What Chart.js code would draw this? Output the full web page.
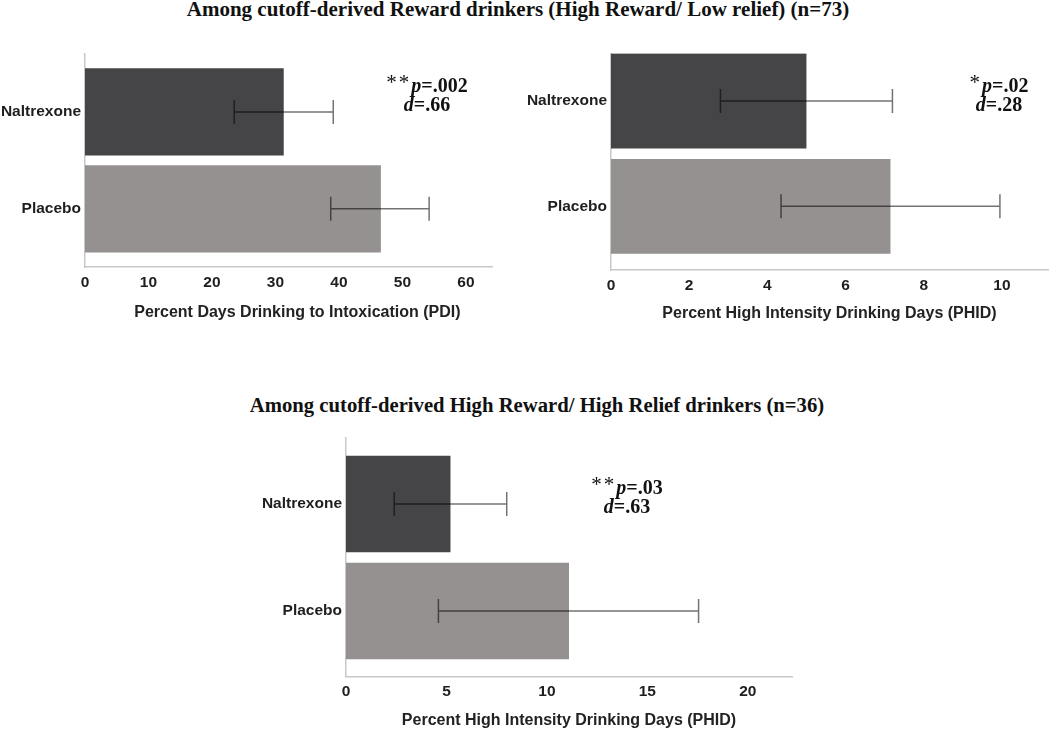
<!DOCTYPE html>
<html>
<head>
<meta charset="utf-8">
<script src="https://cdn.jsdelivr.net/npm/chart.js@4.4.0/dist/chart.umd.min.js"></script>
<style>
  body { margin: 0; background: #fff; width: 1050px; height: 730px; position: relative; overflow: hidden; }
  canvas { position: absolute; }
  .title { position: absolute; font-family: "Liberation Serif", "Times New Roman", serif; font-weight: bold; font-size: 21px; line-height: 20px; color: #111; text-align: center; white-space: nowrap; width: 800px; }
  .stat { position: absolute; font-family: "Liberation Serif", "Times New Roman", serif; font-weight: bold; font-size: 20px; line-height: 19px; color: #111; text-align: center; width: 140px; white-space: nowrap; }
  .stat .ast { font-weight: normal; font-size: 21px; letter-spacing: 2px; position: relative; top: -3px; }
</style>
</head>
<body>

<div class="title" style="left:118px; top:-1px;">Among cutoff-derived Reward drinkers (High Reward/ Low relief) (n=73)</div>
<div class="title" style="left:137px; top:395px; font-size:20.7px;">Among cutoff-derived High Reward/ High Relief drinkers (n=36)</div>

<canvas id="pdiChart" width="500" height="282" style="left:0px; top:40px;"></canvas>
<canvas id="phidRewardChart" width="525" height="283" style="left:525px; top:40px;"></canvas>
<canvas id="phidReliefChart" width="550" height="310" style="left:250px; top:420px;"></canvas>

<div class="stat" style="left:357px; top:76px;"><span class="ast">**</span><i>p</i>=.002<br><i>d</i>=.66</div>
<div class="stat" style="left:929px; top:76px;"><span class="ast">*</span><i>p</i>=.02<br><i>d</i>=.28</div>
<div class="stat" style="left:557px; top:478px;"><span class="ast">**</span><i>p</i>=.03<br><i>d</i>=.63</div>

<script>
// groups shown on every chart
const groups = ['Naltrexone', 'Placebo'];
const barColors = ['#454547', '#959190'];

// Reward drinkers - PDI
const pdiMeans = [31.3, 46.6];
const pdiLow = [23.5, 38.7];
const pdiHigh = [39.1, 54.2];

// Reward drinkers - PHID
const phidRewardMeans = [5.0, 7.15];
const phidRewardLow = [2.8, 4.35];
const phidRewardHigh = [7.2, 9.95];

// High reward / high relief drinkers - PHID
const phidReliefMeans = [5.2, 11.1];
const phidReliefLow = [2.4, 4.6];
const phidReliefHigh = [8.0, 17.55];

const tickFont = { family: '"Liberation Sans", Arial, sans-serif', size: 15.5, weight: 'bold' };
const axisFont = { family: '"Liberation Sans", Arial, sans-serif', size: 16, weight: 'bold' };

// draws the error bar for each group from the low/high arrays
const errorBars = {
  id: 'errorBars',
  afterDatasetsDraw(chart, args, opts) {
    const xs = chart.scales.x, ys = chart.scales.y;
    const ctx = chart.ctx;
    ctx.save();
    ctx.strokeStyle = 'rgba(0,0,0,0.55)';
    ctx.lineWidth = 1.5;
    ctx.beginPath();
    opts.low.forEach((lo, i) => {
      const y = ys.getPixelForValue(i);
      const x1 = xs.getPixelForValue(lo);
      const x2 = xs.getPixelForValue(opts.high[i]);
      ctx.moveTo(x1, y); ctx.lineTo(x2, y);
      ctx.moveTo(x1, y - 12); ctx.lineTo(x1, y + 12);
      ctx.moveTo(x2, y - 12); ctx.lineTo(x2, y + 12);
    });
    ctx.stroke();
    ctx.restore();
  }
};

function makeChart(id, means, low, high, xTitle, xMax, step, yMin, yMax, yWidth, pad, xHeight, tickPad) {
  return new Chart(document.getElementById(id), {
    type: 'bar',
    data: {
      datasets: [{
        data: means.map((v, i) => ({ x: v, y: i })),
        backgroundColor: barColors,
        barPercentage: 0.9,
        categoryPercentage: 1
      }]
    },
    options: {
      indexAxis: 'y',
      responsive: false,
      animation: false,
      layout: { padding: pad },
      plugins: {
        legend: { display: false },
        tooltip: { enabled: false },
        errorBars: { low: low, high: high }
      },
      scales: {
        x: {
          type: 'linear',
          bounds: 'data',
          min: 0,
          max: xMax,
          grid: { display: false, drawTicks: false },
          border: { display: true, color: '#c8c8c8', width: 1.5 },
          ticks: { stepSize: step, includeBounds: false, padding: tickPad, color: '#1e1e1e', font: tickFont },
          title: { display: true, text: xTitle, padding: 0, color: '#222', font: axisFont },
          afterFit: s => { s.height = xHeight; }
        },
        y: {
          type: 'linear',
          bounds: 'data',
          offset: false,
          reverse: true,
          min: yMin,
          max: yMax,
          grid: { display: false, drawTicks: false, offset: false },
          border: { display: true, color: '#c8c8c8', width: 1.5 },
          ticks: { padding: 4, color: '#1e1e1e', font: tickFont, callback: v => groups[v] },
          afterBuildTicks: s => { s.ticks = groups.map((g, i) => ({ value: i })); },
          afterFit: s => { s.width = yWidth; }
        }
      }
    },
    plugins: [errorBars]
  });
}

// leading spaces nudge this title a little right, as in the original
makeChart('pdiChart', pdiMeans, pdiLow, pdiHigh,
  '    Percent Days Drinking to Intoxication (PDI)', 64.1, 10, -0.605, 1.6, 85,
  { left: 0, right: 8, top: 12, bottom: 0 }, 55, 6.7);

makeChart('phidRewardChart', phidRewardMeans, phidRewardLow, phidRewardHigh,
  'Percent High Intensity Drinking Days (PHID)', 11.18, 2, -0.453, 1.604, 86,
  { left: 0, right: 2, top: 12, bottom: 0 }, 53, 6.7);

makeChart('phidReliefChart', phidReliefMeans, phidReliefLow, phidReliefHigh,
  'Percent High Intensity Drinking Days (PHID)', 22.2, 5, -0.617, 1.612, 96,
  { left: 0, right: 8, top: 18, bottom: 0 }, 53.5, 6.2);
</script>
</body>
</html>
